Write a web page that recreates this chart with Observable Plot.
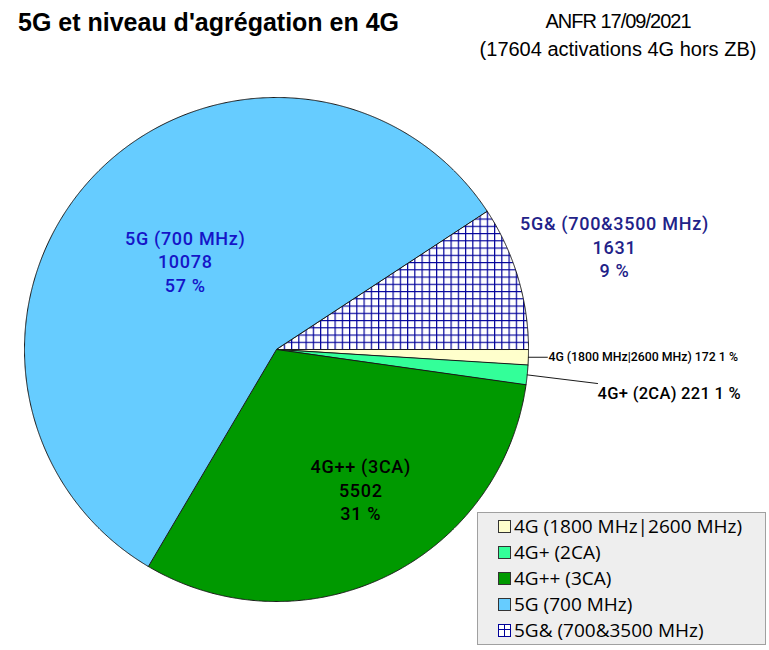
<!DOCTYPE html>
<html>
<head>
<meta charset="utf-8">
<script src="https://cdn.jsdelivr.net/npm/d3@7"></script>
<script src="https://cdn.jsdelivr.net/npm/@observablehq/plot@0.6"></script>
<style>
  html, body { margin: 0; padding: 0; background: #fff; overflow: hidden; }
  #wrap { position: relative; width: 769px; height: 650px; }
  #wrap svg.plot { position: absolute; left: 0; top: 0; }
  .title { position: absolute; left: 18px; top: 8px; font-family: "Liberation Sans Narrow", "Arial Narrow", sans-serif; font-weight: bold; font-size: 25px; color: #000; white-space: nowrap; }
  .sub { position: absolute; left: 470px; width: 296px; text-align: center; font-family: "Liberation Sans Narrow", "Arial Narrow", sans-serif; font-size: 20px; color: #000; white-space: nowrap; line-height: 28px; top: 7px; }
  .sub .l1 { letter-spacing: -1px; }
  .legend { position: absolute; left: 477px; top: 512px; width: 289px; height: 133px; background: #eeeeee; border: 1px solid #a0a0a0; box-sizing: border-box; font-family: "Open Sans", "Noto Sans", sans-serif; font-size: 19px; color: #000; padding-top: 0px; }
  .row { height: 26px; display: flex; align-items: center; padding-left: 20px; white-space: nowrap; }
  .sw { width: 11px; height: 11px; border: 1px solid #333; margin-right: 3px; flex: none; }
  g.biglab text { letter-spacing: 0.7px; }
  g.small2 text { letter-spacing: 0.3px; }
</style>
</head>
<body>
<div id="wrap"></div>
<script>
// ---- data ----
const categories = ["5G& (700&3500 MHz)", "4G (1800 MHz|2600 MHz)", "4G+ (2CA)", "4G++ (3CA)", "5G (700 MHz)"];
const values = [1631, 172, 221, 5502, 10078];
const colors = ["url(#grid5g)", "#ffffcc", "#33ff99", "#009900", "#66ccff"];
const labelColors = ["#222288", "#000000", "#000000", "#000000", "#1515c8"];
const legendOrder = ["4G (1800 MHz|2600 MHz)", "4G+ (2CA)", "4G++ (3CA)", "5G (700 MHz)", "5G& (700&3500 MHz)"];
const titleText = "5G et niveau d'agrégation en 4G";
const subText = ["ANFR 17/09/2021", "(17604 activations 4G hors ZB)"];

// ---- layout ----
const startDeg = 56.65;
const labelK = [1.4, null, null, 0.655, 0.5];
const labelDa = [0, 0, 0, -5, 0];
const leaderEnd = [null, [1.075, null], [1.274, -0.135], null, null];

const total = d3.sum(values);
const pie = d3.pie().sort(null).value(d => d).startAngle(startDeg * Math.PI / 180)
  .endAngle(startDeg * Math.PI / 180 + 2 * Math.PI);
const arcs = pie(values);

const pts = [];
arcs.forEach((a, i) => {
  pts.push({cat: categories[i], fill: colors[i], x: 0, y: 0});
  const n = Math.max(4, Math.ceil((a.endAngle - a.startAngle) / (Math.PI / 720)));
  for (let k = 0; k <= n; k++) {
    const t = a.startAngle + (a.endAngle - a.startAngle) * k / n;
    pts.push({cat: categories[i], fill: colors[i], x: Math.sin(t), y: Math.cos(t)});
  }
});

const mid = a => (a.startAngle + a.endAngle) / 2;
const bigLabels = [], smallLabels = [], leaders = [];
arcs.forEach((a, i) => {
  const pct = Math.round(values[i] / total * 100);
  if (labelK[i] != null) {
    const t = mid(a) + labelDa[i] * Math.PI / 180;
    bigLabels.push({x: labelK[i] * Math.sin(t), y: labelK[i] * Math.cos(t),
      text: `${categories[i]}\n${values[i]}\n${pct} %`, color: labelColors[i]});
  } else {
    const t = mid(a);
    const x0 = Math.sin(t), y0 = Math.cos(t);
    const [ex, ey] = leaderEnd[i];
    const y1 = ey == null ? y0 : ey;
    leaders.push({id: i, x: x0, y: y0}, {id: i, x: ex, y: y1});
    smallLabels.push({x: ex, y: y1, text: `${categories[i]} ${values[i]} ${pct} %`, i});
  }
});

const svg = Plot.plot({
  width: 769,
  height: 650,
  margin: 0,
  x: {domain: [-1, 1], range: [24, 528], axis: null},
  y: {domain: [-1, 1], range: [601, 97], axis: null},
  color: {type: "identity"},
  marks: [
    Plot.line(pts, {x: "x", y: "y", z: "cat", fill: "fill", stroke: "#1a1a1a", strokeWidth: 1, curve: "linear-closed"}),
    Plot.line(leaders, {x: "x", y: "y", z: "id", stroke: "#1a1a1a", strokeWidth: 1}),
    Plot.text(bigLabels, {x: "x", y: "y", text: "text", fill: "color", fontFamily: "Roboto, sans-serif", fontWeight: 500, fontSize: 18, lineHeight: 1.305, textAnchor: "middle", dy: -2}),
    Plot.text(smallLabels.filter(d => d.i === 1), {x: "x", y: "y", text: "text", fill: "#000", fontFamily: "Roboto, sans-serif", fontWeight: 500, fontSize: 12.3, textAnchor: "start", dx: 1}),
    Plot.text(smallLabels.filter(d => d.i === 2), {x: "x", y: "y", text: "text", fill: "#000", fontFamily: "Roboto, sans-serif", fontWeight: 500, fontSize: 16.5, textAnchor: "start", dx: 0, dy: 10})
  ]
});
const textGroups = svg.querySelectorAll('g[aria-label="text"]');
if (textGroups[0]) textGroups[0].classList.add("biglab");
if (textGroups[2]) textGroups[2].classList.add("small2");
svg.insertAdjacentHTML("afterbegin",
  `<defs><pattern id="grid5g" patternUnits="userSpaceOnUse" width="7.25" height="7.25" x="0.5" y="0.5">
     <rect width="7.25" height="7.25" fill="#ffffff"/>
     <path d="M0 0.6H7.25M0.6 0V7.25" stroke="#000099" stroke-width="1.2" fill="none"/>
   </pattern></defs>`);

const wrap = document.getElementById("wrap");
wrap.appendChild(svg);

const t = document.createElement("div");
t.className = "title"; t.textContent = titleText; wrap.appendChild(t);
const s = document.createElement("div");
s.className = "sub"; s.innerHTML = subText.map((x, i) => `<div class="l${i + 1}">${x}</div>`).join(""); wrap.appendChild(s);

const lg = document.createElement("div");
lg.className = "legend";
legendOrder.forEach(name => {
  const i = categories.indexOf(name);
  const row = document.createElement("div");
  row.className = "row";
  const sw = document.createElement("span");
  sw.className = "sw";
  if (colors[i].startsWith("url(")) {
    sw.style.border = "1px solid #000099";
    sw.style.background = "linear-gradient(#000099,#000099) 4.5px 0/1px 100% no-repeat, linear-gradient(#000099,#000099) 0 4.5px/100% 1px no-repeat, #fff";
  } else {
    sw.style.background = colors[i];
  }
  row.appendChild(sw);
  const tx = document.createElement("span");
  tx.textContent = name;
  row.appendChild(tx);
  lg.appendChild(row);
});
wrap.appendChild(lg);
</script>
</body>
</html>
